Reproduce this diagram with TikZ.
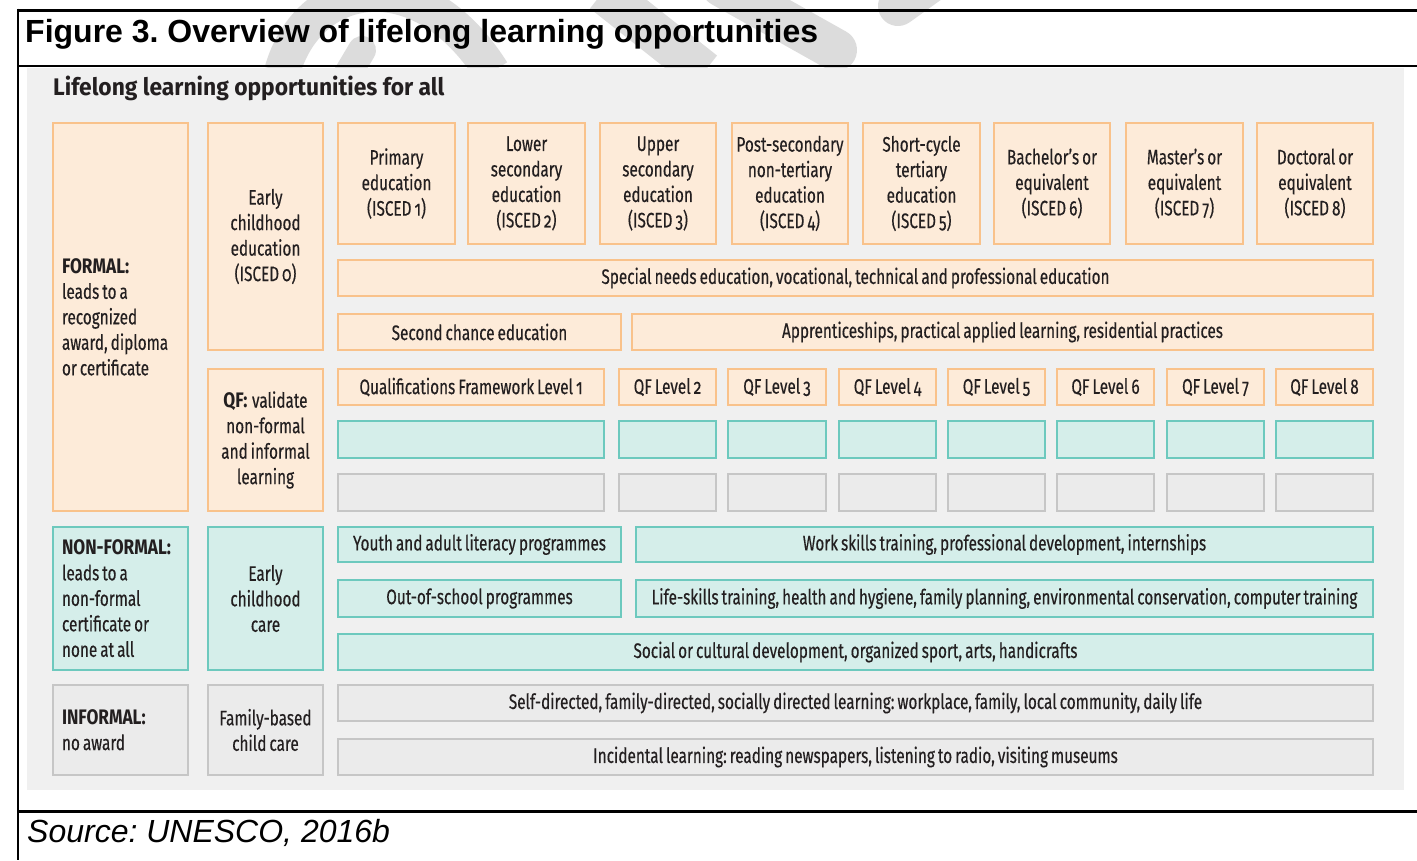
\documentclass[tikz,border=0pt]{standalone}
\usepackage{fontspec}
\setmainfont{Liberation Sans}
\newfontfamily\dfont[FakeStretch=0.73, WordSpace={0.74,0,0}, Numbers=OldStyle,
  UprightFeatures={FakeBold=0.35},
  BoldFeatures={FakeStretch=0.82}]{Fira Sans}
\newfontfamily\hfont[FakeStretch=0.95]{Fira Sans}

\definecolor{panelgray}{HTML}{F0F0F0}
\definecolor{wmgray}{HTML}{DCDCDC}
\definecolor{txt}{HTML}{231F20}
\definecolor{ofill}{HTML}{FDEBD9}
\definecolor{oline}{HTML}{F9C28B}
\definecolor{tfill}{HTML}{D5EEEA}
\definecolor{tline}{HTML}{6DC9BE}
\definecolor{gfill}{HTML}{EBEBEB}
\definecolor{gline}{HTML}{C6C6C6}

% a box given by its corner coordinates (left, top, right, bottom)
\newcommand\cell[7]{%
  \node[#2, minimum width={#5-#3}, minimum height={#6-#4}] (#1)
    at ({(#3+#5)/2},{(#4+#6)/2}) {#7};}

\begin{document}
\frenchspacing
\begin{tikzpicture}[x=1pt, y=-1pt,
  boxbase/.style={inner sep=0pt, line width=1.8pt, text=txt, align=center,
    font=\dfont\fontsize{21}{25.5}\selectfont},
  obox/.style={boxbase, fill=ofill, draw=oline},
  tbox/.style={boxbase, fill=tfill, draw=tline},
  gbox/.style={boxbase, fill=gfill, draw=gline},
  catbox/.style={align=flush left, text width=117pt},
  wm/.style={draw=wmgray, line width=38pt},
  frame/.style={line width=#1, black}
]
\useasboundingbox (0,0) rectangle (1417,860);
\fill[white] (0,0) rectangle (1417,860);

% faint diagonal watermark strokes behind the heading
\begin{scope}
  \clip (0,0) rectangle (1417,67);
  \draw[wm, line width=36pt] (282,72) .. controls (308,-22) and (420,-42) .. (492,72);
  \draw[wm, line width=28pt, line cap=round] (343,82) -- (362,50);
  \draw[wm, line width=42pt] (603,-8) -- (704,72);
  \draw[wm, line width=42pt, line cap=round] (722,-14) -- (836,50);
  \draw[wm, line width=40pt, line cap=round] (965,-42) -- (898,6);
\end{scope}

% grey panel
\fill[panelgray] (27,68) rectangle (1404,790);

% frame rules
\draw[frame=3pt] (18,10) -- (1417,10);
\draw[frame=2.5pt] (18,8.5) -- (18,860);
\draw[frame=2pt] (18,66) -- (1417,66);
\draw[frame=3pt] (18,811) -- (1417,811);

% captions
\node[anchor=base west, inner sep=0pt, font=\bfseries\fontsize{32}{38}\selectfont]
  (title) at (25,42) {Figure 3. Overview of lifelong learning opportunities};
\node[anchor=base west, inner sep=0pt, font=\itshape\fontsize{32}{38}\selectfont]
  (source) at (27,842) {Source: UNESCO, 2016b};
\node[anchor=base west, inner sep=0pt, text=txt, font=\hfont\bfseries\fontsize{24}{28}\selectfont]
  (subtitle) at (53,95) {Lifelong learning opportunities for all};

% column 1: kinds of learning
\cell{formal}{obox,catbox}{53}{123}{188}{511}{\textbf{FORMAL:}\\leads to a\\recognized\\award, diploma\\or certificate}
\cell{nonformal}{tbox,catbox}{53}{527}{188}{670}{\textbf{NON-FORMAL:}\\leads to a\\non-formal\\certificate or\\none at all}
\cell{informal}{gbox,catbox}{53}{685}{188}{775}{\textbf{INFORMAL:}\\no award}

% column 2
\cell{ece}{obox}{208}{123}{323}{350}{Early\\childhood\\education\\(ISCED 0)}
\cell{qf}{obox}{208}{369}{323}{511}{\textbf{QF:}\kern1.5pt{} validate\\non-formal\\and informal\\learning}
\cell{ecc}{tbox}{208}{527}{323}{670}{Early\\childhood\\care}
\cell{fam}{gbox}{208}{685}{323}{775}{Family-based\\child care}

% ISCED levels
\cell{isA}{obox}{338}{123}{455}{244}{Primary\\education\\(ISCED 1)}
\cell{isB}{obox}{468}{123}{585}{244}{Lower\\secondary\\education\\(ISCED 2)}
\cell{isC}{obox}{600}{123}{716}{244}{Upper\\secondary\\education\\(ISCED 3)}
\cell{isD}{obox}{732}{123}{848}{244}{Post-secondary\\non-tertiary\\education\\(ISCED 4)}
\cell{isE}{obox}{863}{123}{980}{244}{Short-cycle\\tertiary\\education\\(ISCED 5)}
\cell{isF}{obox}{994}{123}{1110}{244}{Bachelor’s or\\equivalent\\(ISCED 6)}
\cell{isG}{obox}{1126}{123}{1243}{244}{Master’s or\\equivalent\\(ISCED 7)}
\cell{isH}{obox}{1257}{123}{1373}{244}{Doctoral or\\equivalent\\(ISCED 8)}

% formal bands
\cell{special}{obox}{338}{260}{1373}{296}{Special needs education, vocational, technical and professional education}
\cell{second}{obox}{338}{314}{621}{350}{Second chance education}
\cell{appr}{obox}{632}{314}{1373}{350}{Apprenticeships, practical applied learning, residential practices}

% qualifications framework levels
\cell{qfA}{obox}{338}{369}{604}{405}{Qualifications Framework Level 1}
\cell{qfB}{obox}{619}{369}{716}{405}{QF Level 2}
\cell{qfC}{obox}{728}{369}{826}{405}{QF Level 3}
\cell{qfD}{obox}{839}{369}{936}{405}{QF Level 4}
\cell{qfE}{obox}{948}{369}{1045}{405}{QF Level 5}
\cell{qfF}{obox}{1057}{369}{1154}{405}{QF Level 6}
\cell{qfG}{obox}{1167}{369}{1264}{405}{QF Level 7}
\cell{qfH}{obox}{1276}{369}{1373}{405}{QF Level 8}

\cell{tqA}{tbox}{338}{421}{604}{458}{}
\cell{tqB}{tbox}{619}{421}{716}{458}{}
\cell{tqC}{tbox}{728}{421}{826}{458}{}
\cell{tqD}{tbox}{839}{421}{936}{458}{}
\cell{tqE}{tbox}{948}{421}{1045}{458}{}
\cell{tqF}{tbox}{1057}{421}{1154}{458}{}
\cell{tqG}{tbox}{1167}{421}{1264}{458}{}
\cell{tqH}{tbox}{1276}{421}{1373}{458}{}

\cell{gqA}{gbox}{338}{474}{604}{511}{}
\cell{gqB}{gbox}{619}{474}{716}{511}{}
\cell{gqC}{gbox}{728}{474}{826}{511}{}
\cell{gqD}{gbox}{839}{474}{936}{511}{}
\cell{gqE}{gbox}{948}{474}{1045}{511}{}
\cell{gqF}{gbox}{1057}{474}{1154}{511}{}
\cell{gqG}{gbox}{1167}{474}{1264}{511}{}
\cell{gqH}{gbox}{1276}{474}{1373}{511}{}

% non-formal bands
\cell{youth}{tbox}{338}{527}{621}{562}{Youth and adult literacy programmes}
\cell{work}{tbox}{636}{527}{1373}{562}{Work skills training, professional development, internships}
\cell{oos}{tbox}{338}{580}{621}{617}{Out-of-school programmes}
\cell{life}{tbox}{636}{580}{1373}{617}{Life-skills training, health and hygiene, family planning, environmental conservation, computer training}
\cell{social}{tbox}{338}{634}{1373}{670}{Social or cultural development, organized sport, arts, handicrafts}

% informal bands
\cell{self}{gbox}{338}{685}{1373}{721}{Self-directed, family-directed, socially directed learning: workplace, family, local community, daily life}
\cell{incid}{gbox}{338}{739}{1373}{775}{Incidental learning: reading newspapers, listening to radio, visiting museums}
\end{tikzpicture}
\end{document}
